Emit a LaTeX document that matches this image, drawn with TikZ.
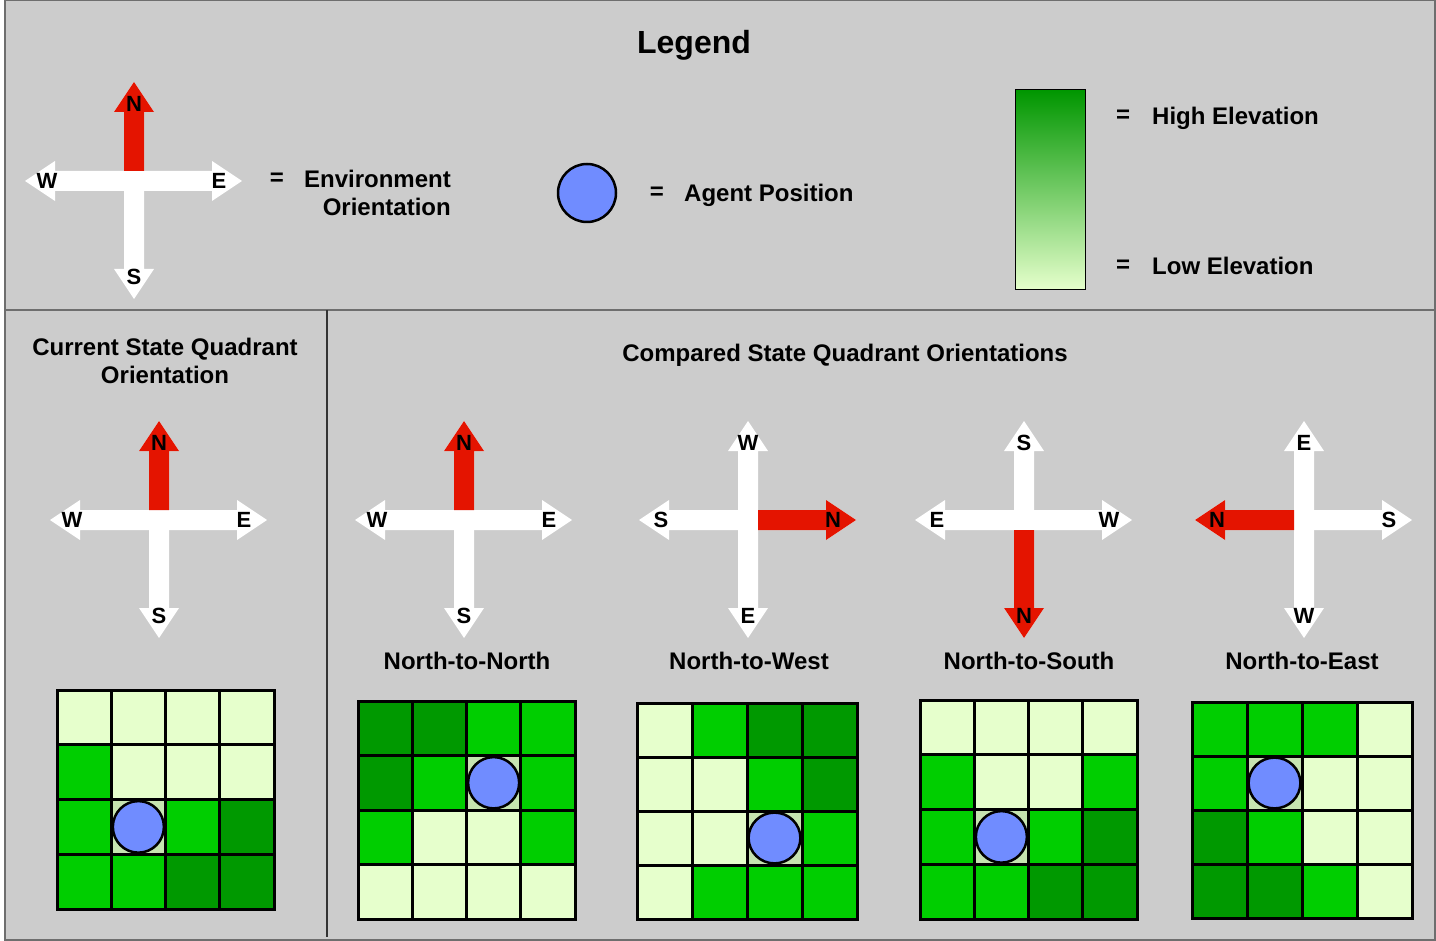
\documentclass[tikz,border=0pt]{standalone}
\usepackage{fontspec}
\setmainfont{Liberation Sans}
\definecolor{bg}{RGB}{204,204,204}
\definecolor{framec}{RGB}{110,110,110}
\definecolor{cL}{RGB}{230,255,204}
\definecolor{cM}{RGB}{0,206,0}
\definecolor{cD}{RGB}{0,153,0}
\definecolor{cA}{RGB}{198,228,176}
\definecolor{agent}{RGB}{112,140,255}
\definecolor{redarm}{RGB}{228,20,0}
\definecolor{gtop}{RGB}{0,150,0}
\tikzset{
  txt/.style={font=\fontsize{24}{24}\selectfont\bfseries, inner sep=0pt, text depth=0pt},
  lbl/.style={font=\fontsize{22}{22}\selectfont\bfseries, inner sep=0pt, text depth=0pt},
  gridline/.style={draw=black, line width=3},
  agentc/.style={draw=black, line width=2.5, fill=agent},
}
\newcommand\arm[6]{%
  \begin{scope}[shift={(#1,#2)},rotate=#3]
    \fill[#6] (#4,-10)--(#5-30,-10)--(#5-30,-20)--(#5,0)--(#5-30,20)--(#5-30,10)--(#4,10)--cycle;
  \end{scope}}
\newcommand\compass[9]{%
  \arm{#2}{#3}{90}{0}{99}{white}
  \arm{#2}{#3}{0}{0}{108}{white}
  \arm{#2}{#3}{-90}{0}{118}{white}
  \arm{#2}{#3}{180}{0}{109}{white}
  \arm{#2}{#3}{#4}{10}{#5}{redarm}
  \node[lbl] (#1u) at (#2,#3-77) {#6};
  \node[lbl] (#1r) at (#2+85,#3) {#7};
  \node[lbl] (#1d) at (#2,#3+96) {#8};
  \node[lbl] (#1l) at (#2-87,#3) {#9};
}
\newcommand\qgrid[7]{%
  \pgfmathsetmacro\cw{(#3-#1)/4}
  \pgfmathsetmacro\ch{(#4-#2)/4}
  \foreach \c [count=\i from 0] in {#5} {
    \pgfmathtruncatemacro\col{mod(\i,4)}
    \pgfmathtruncatemacro\row{\i/4}
    \fill[c\c] ({#1+\col*\cw},{#2+\row*\ch}) rectangle ++(\cw,\ch);
  }
  \foreach \k in {1,2,3} {
    \draw[gridline] ({#1+\k*\cw},#2) -- ({#1+\k*\cw},#4);
    \draw[gridline] (#1,{#2+\k*\ch}) -- (#3,{#2+\k*\ch});
  }
  \draw[gridline] (#1,#2) rectangle (#3,#4);
  \draw[agentc] ({#1+(#6+0.5)*\cw},{#2+(#7+0.5)*\ch}) ellipse [x radius={\cw/2-1.6}, y radius={\ch/2-1.6}];
}
\begin{document}
\begin{tikzpicture}[x=1pt,y=-1pt]
\useasboundingbox (0,0) rectangle (1436,941);
\fill[white] (0,0) rectangle (1436,941);
\fill[bg] (5,0.75) rectangle (1435,940);
\draw[framec, line width=1.5] (5,0.75) rectangle (1435,940);
\draw[framec, line width=1.5] (5,310) -- (1435,310);
\draw[black!80, line width=1.2] (327,310) -- (327,937);

% Legend
\node[txt, font=\fontsize{32}{32}\selectfont\bfseries] (legend) at (694,42) {Legend};
\compass{lg}{134}{181}{90}{99}{N}{E}{S}{W}
\node[txt] (eq1) at (277,179) {=};
\node[txt, anchor=east] (env1) at (451,179) {Environment};
\node[txt, anchor=east] (env2) at (451,207) {Orientation};
\draw[agentc] (587,193) circle [radius=29];
\node[txt] (eq2) at (657,193) {=};
\node[txt, anchor=west] (agpos) at (684,193) {Agent Position};
\shade[top color=gtop, bottom color=cL] (1015,90) rectangle (1085,290);
\draw[black, line width=1] (1015,90) rectangle (1085,290);
\node[txt] (eq3) at (1123,116) {=};
\node[txt, anchor=west] (high) at (1152,116) {High Elevation};
\node[txt] (eq4) at (1123,266) {=};
\node[txt, anchor=west] (low) at (1152,266) {Low Elevation};

% Current state
\node[txt] (cur1) at (165,347) {Current State Quadrant};
\node[txt] (cur2) at (165,375) {Orientation};
\compass{cs}{159}{520}{90}{99}{N}{E}{S}{W}
\qgrid{57}{690}{274}{909}{L,L,L,L,M,L,L,L,M,A,M,D,M,M,D,D}{1}{2}

% Compared
\node[txt] (comp) at (845,353) {Compared State Quadrant Orientations};
\compass{nn}{464}{520}{90}{99}{N}{E}{S}{W}
\compass{nw}{748}{520}{0}{108}{W}{N}{E}{S}
\compass{ns}{1024}{520}{-90}{118}{S}{W}{N}{E}
\compass{ne}{1304}{520}{180}{109}{E}{S}{W}{N}
\node[txt] (tnn) at (467,661) {North-to-North};
\node[txt] (tnw) at (749,661) {North-to-West};
\node[txt] (tns) at (1029,661) {North-to-South};
\node[txt] (tne) at (1302,661) {North-to-East};
\qgrid{358}{701}{575}{919}{D,D,M,M,D,M,A,M,M,L,L,M,L,L,L,L}{2}{1}
\qgrid{637}{703}{857}{919}{L,M,D,D,L,L,M,D,L,L,A,M,L,M,M,M}{2}{2}
\qgrid{920}{700}{1137}{919}{L,L,L,L,M,L,L,M,M,A,M,D,M,M,D,D}{1}{2}
\qgrid{1192}{702}{1412}{918}{M,M,M,L,M,A,L,L,D,M,L,L,D,D,M,L}{1}{1}
\end{tikzpicture}
\end{document}
